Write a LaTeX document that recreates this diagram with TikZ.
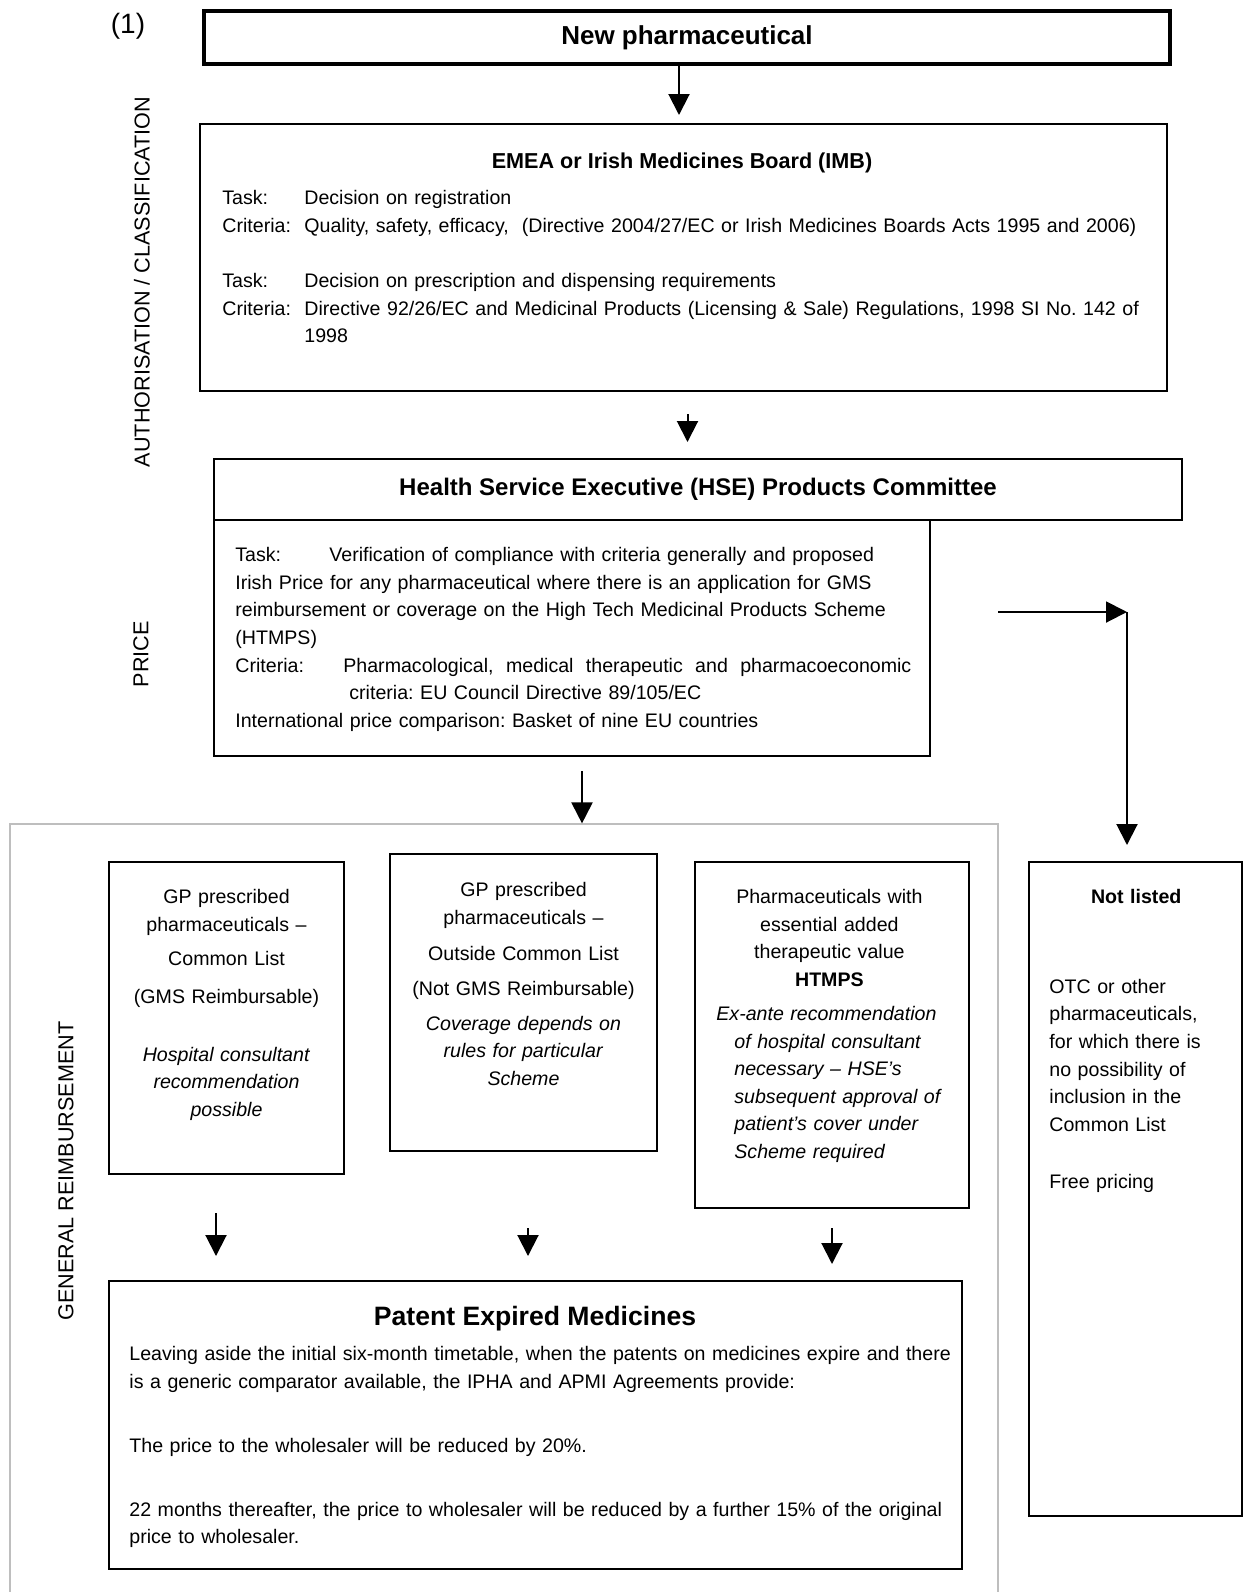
\documentclass[tikz,border=0pt]{standalone}
\usepackage{fontspec}
\setmainfont{Liberation Sans}
\usetikzlibrary{arrows.meta, positioning, calc}
\definecolor{framegray}{RGB}{190,190,190}
\frenchspacing

\tikzset{
  box/.style={draw, line width=1pt, inner sep=0pt},
  flow/.style={-{Triangle[length=10.5pt,width=10.5pt]}, line width=1pt},
  body/.style={inner sep=0pt, font=\fontsize{9.8}{13.8}\selectfont,
               execute at begin node=\strut},
  sidelabel/.style={rotate=90, inner sep=0pt, font=\fontsize{10.8}{12}\selectfont},
}

\begin{document}
\begin{tikzpicture}[x=0.5pt, y=-0.5pt]
\useasboundingbox (0,0) rectangle (1244,1592);

% Stage labels
\node[inner sep=0pt, font=\fontsize{14}{16}\selectfont] (stepno) at (128,26) {(1)};
\node[sidelabel] (authlabel) at (142,282) {AUTHORISATION / CLASSIFICATION};
\node[sidelabel] (pricelabel) at (141,654) {PRICE};
\node[sidelabel] (reimblabel) at (66,1171) {GENERAL REIMBURSEMENT};

% Reimbursement frame
\node[draw=framegray, line width=0.6pt, inner sep=0pt,
      minimum width=494pt, minimum height=400pt] (reimb) at (504,1224) {};

% New pharmaceutical
\node[box, line width=2pt, minimum width=483pt, minimum height=26.5pt,
      font=\bfseries\fontsize{13}{15}\selectfont] (newpharm) at (687,37.5)
      {New pharmaceutical};

% Authorisation
\node[box, minimum width=483.5pt, minimum height=133.5pt] (emea) at (683.5,257.5) {};
\node[anchor=base, inner sep=0pt, font=\bfseries\fontsize{10.8}{13}\selectfont]
      (emeatitle) at (682,168) {EMEA or Irish Medicines Board (IMB)};
\node[body, anchor=north west, text width=475pt, align=left] (emeatext) at (222,185)
      {\makebox[41pt][l]{Task:}Decision on registration\\
       \makebox[41pt][l]{Criteria:}Quality, safety, efficacy,\ \ (Directive 2004/27/EC or Irish Medicines Boards Acts 1995 and 2006)\\[13.8pt]
       \makebox[41pt][l]{Task:}Decision on prescription and dispensing requirements\\
       \makebox[41pt][l]{Criteria:}Directive 92/26/EC and Medicinal Products (Licensing \& Sale) Regulations, 1998 SI No. 142 of\\
       \hspace*{41pt}1998};

% Price
\node[box, minimum width=484pt, minimum height=30.5pt,
      font=\bfseries\fontsize{12}{14}\selectfont] (hsehead) at (698,489.5)
      {Health Service Executive (HSE) Products Committee};
\node[box, minimum width=358pt, minimum height=118pt] (hsebody) at (572,638) {};
\node[body, anchor=north west, text width=345pt, align=left] (hsetext) at (235,542)
      {\makebox[47pt][l]{Task:}Verification of compliance with criteria generally and proposed\\
       Irish Price for any pharmaceutical where there is an application for GMS\\
       reimbursement or coverage on the High Tech Medicinal Products Scheme\\
       (HTMPS)\\
       \makebox[54pt][l]{Criteria:}\makebox[284pt][l]{Pharmacological,\hfill medical\hfill therapeutic\hfill and\hfill pharmacoeconomic}\\
       \hspace*{57pt}criteria: EU Council Directive 89/105/EC\\
       International price comparison: Basket of nine EU countries};

% Reimbursement categories
\node[box, minimum width=117.5pt, minimum height=156pt] (gpcommon) at (226.5,1018) {};
\node[body, text width=117pt, align=center, anchor=north] (gpcommontext) at (226.5,884)
      {GP prescribed\\ pharmaceuticals –\\[3.2pt] Common List\\[5.2pt] (GMS Reimbursable)\\[15.2pt]
       \textit{Hospital consultant}\\ \textit{recommendation}\\ \textit{possible}};

\node[box, minimum width=133.5pt, minimum height=148.5pt] (gpoutside) at (523.5,1002.5) {};
\node[body, text width=133pt, align=center, anchor=north] (gpoutsidetext) at (523.5,877)
      {GP prescribed\\ pharmaceuticals –\\[4.2pt] Outside Common List\\[3.7pt] (Not GMS Reimbursable)\\[3.7pt]
       \textit{Coverage depends on}\\ \textit{rules for particular}\\ \textit{Scheme}};

\node[box, minimum width=137pt, minimum height=173pt] (htmps) at (832,1035) {};
\node[body, anchor=north west, text width=128pt, align=left] (htmpstext) at (716,884)
      {\makebox[113pt]{Pharmaceuticals with}\\
       \makebox[113pt]{essential added}\\
       \makebox[113pt]{therapeutic value}\\
       \makebox[113pt]{\bfseries HTMPS}\\[3.2pt]
       \textit{Ex-ante recommendation}\\
       \hspace*{9pt}\textit{of hospital consultant}\\
       \hspace*{9pt}\textit{necessary – HSE’s}\\
       \hspace*{9pt}\textit{subsequent approval of}\\
       \hspace*{9pt}\textit{patient’s cover under}\\
       \hspace*{9pt}\textit{Scheme required}};

\node[box, minimum width=106.5pt, minimum height=327pt] (notlisted) at (1135.5,1189) {};
\node[body, anchor=north west, text width=95pt, align=left] (notlistedtext) at (1049,884)
      {\hspace*{20.8pt}\textbf{Not listed}\\[31pt]
       OTC or other\\ pharmaceuticals,\\ for which there is\\ no possibility of\\
       inclusion in the\\ Common List\\[14.7pt] Free pricing};

% Patent expiry
\node[box, minimum width=426.5pt, minimum height=144pt] (patent) at (535.5,1425) {};
\node[anchor=base, inner sep=0pt, font=\bfseries\fontsize{13.3}{15}\selectfont]
      (patenttitle) at (535,1325) {Patent Expired Medicines};
\node[body, anchor=north west, text width=418pt, align=left] (patenttext) at (129,1341)
      {Leaving aside the initial six-month timetable, when the patents on medicines expire and there\\
       is a generic comparator available, the IPHA and APMI Agreements provide:\\[18.2pt]
       The price to the wholesaler will be reduced by 20\%.\\[18.2pt]
       22 months thereafter, the price to wholesaler will be reduced by a further 15\% of the original\\
       price to wholesaler.};

% Arrows
\coordinate (pricedout) at (998,612);
\coordinate (pricecorner) at (1127,612);
\draw[flow, shorten >=4pt] ([xshift=-4pt]newpharm.south) -- ([xshift=-4pt]newpharm.south |- emea.north);
\draw[flow, shorten <=11pt, shorten >=8pt] ([xshift=2pt]emea.south) -- ([xshift=2pt]emea.south |- hsehead.north);
\draw[flow, shorten <=7pt] ([xshift=5pt]hsebody.south) -- ([xshift=5pt]hsebody.south |- reimb.north);
\draw[flow] (pricedout) -- (pricecorner);
\draw[flow, shorten >=8pt] (pricecorner) -- (pricecorner |- notlisted.north);
\draw[flow, shorten <=19pt, shorten >=12pt] ([xshift=-5.25pt]gpcommon.south) -- ([xshift=-5.25pt]gpcommon.south |- patent.north);
\draw[flow, shorten <=38pt, shorten >=12pt] ([xshift=2.25pt]gpoutside.south) -- ([xshift=2.25pt]gpoutside.south |- patent.north);
\draw[flow, shorten <=9.5pt, shorten >=8pt] (htmps.south) -- (htmps.south |- patent.north);

\end{tikzpicture}
\end{document}
